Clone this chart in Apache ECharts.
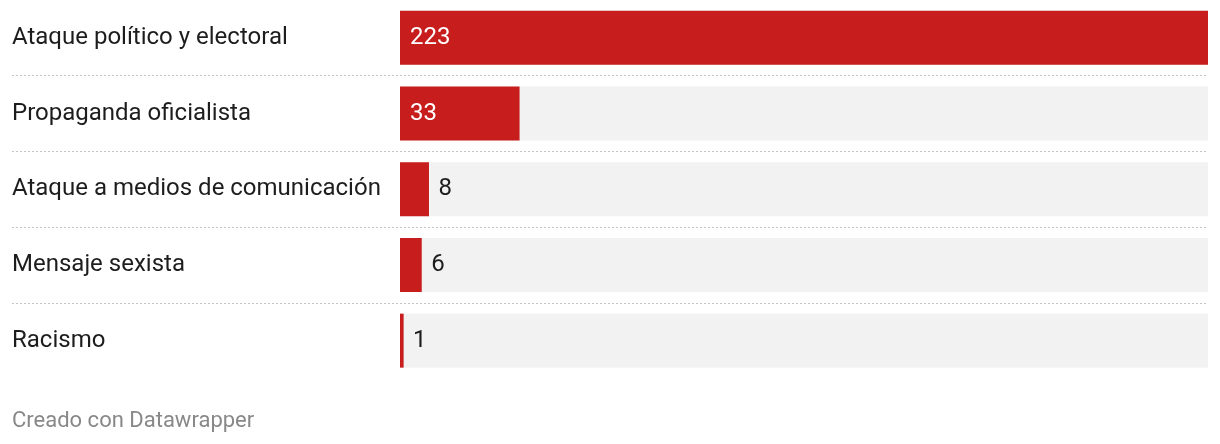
<!DOCTYPE html>
<html>
<head>
<meta charset="utf-8">
<script src="https://cdn.jsdelivr.net/npm/echarts@6/dist/echarts.min.js"></script>
<style>
html,body{margin:0;padding:0;background:#fff;}
#chart{width:1220px;height:444px;}
</style>
</head>
<body>
<div id="chart"></div>
<script>
const categories = ["Ataque político y electoral", "Propaganda oficialista", "Ataque a medios de comunicación", "Mensaje sexista", "Racismo"];
const values = [223, 33, 8, 6, 1];
const footerText = "Creado con Datawrapper";

const RED = "#c71e1d";
const FONT = "Roboto, 'Noto Sans', sans-serif";
const maxVal = Math.max(...values);

const chart = echarts.init(document.getElementById('chart'), null, {renderer: 'canvas'});

const data = values.map(v => {
  const inside = v / maxVal > 0.1;
  return {
    value: v,
    label: inside
      ? {position: 'insideLeft', distance: 10, color: '#ffffff'}
      : {position: 'right', distance: 9.5, color: '#1d1d1d'}
  };
});

chart.setOption({
  animation: false,
  grid: [
    {left: 400, right: 12, top: -1.5, bottom: 65.5},
    {left: 12, right: 12, top: 75, bottom: 141}
  ],
  xAxis: [
    {gridIndex: 0, type: 'value', min: 0, max: maxVal, show: false},
    {gridIndex: 1, type: 'value', min: 0, max: 1, show: false}
  ],
  yAxis: [
    {
      gridIndex: 0, type: 'category', data: categories, inverse: true,
      axisLine: {show: false}, axisTick: {show: false}, splitLine: {show: false},
      axisLabel: {align: 'left', margin: 388, fontFamily: FONT, fontSize: 24, color: '#1d1d1d'}
    },
    {
      gridIndex: 1, type: 'value', min: 0, max: 3, interval: 1,
      axisLine: {show: false}, axisTick: {show: false}, axisLabel: {show: false},
      splitLine: {show: true, lineStyle: {color: '#c4c4c4', width: 1, type: [2, 2]}}
    }
  ],
  series: [{
    type: 'bar',
    xAxisIndex: 0, yAxisIndex: 0,
    data: data,
    barWidth: 54,
    itemStyle: {color: RED},
    showBackground: true,
    backgroundStyle: {color: '#f2f2f2'},
    label: {show: true, fontFamily: FONT, fontSize: 24},
    z: 3
  }],
  graphic: [{
    type: 'text',
    style: {x: 12, y: 421, text: footerText, font: '22px ' + FONT, fill: '#888888', verticalAlign: 'middle', align: 'left'}
  }]
});
</script>
</body>
</html>
